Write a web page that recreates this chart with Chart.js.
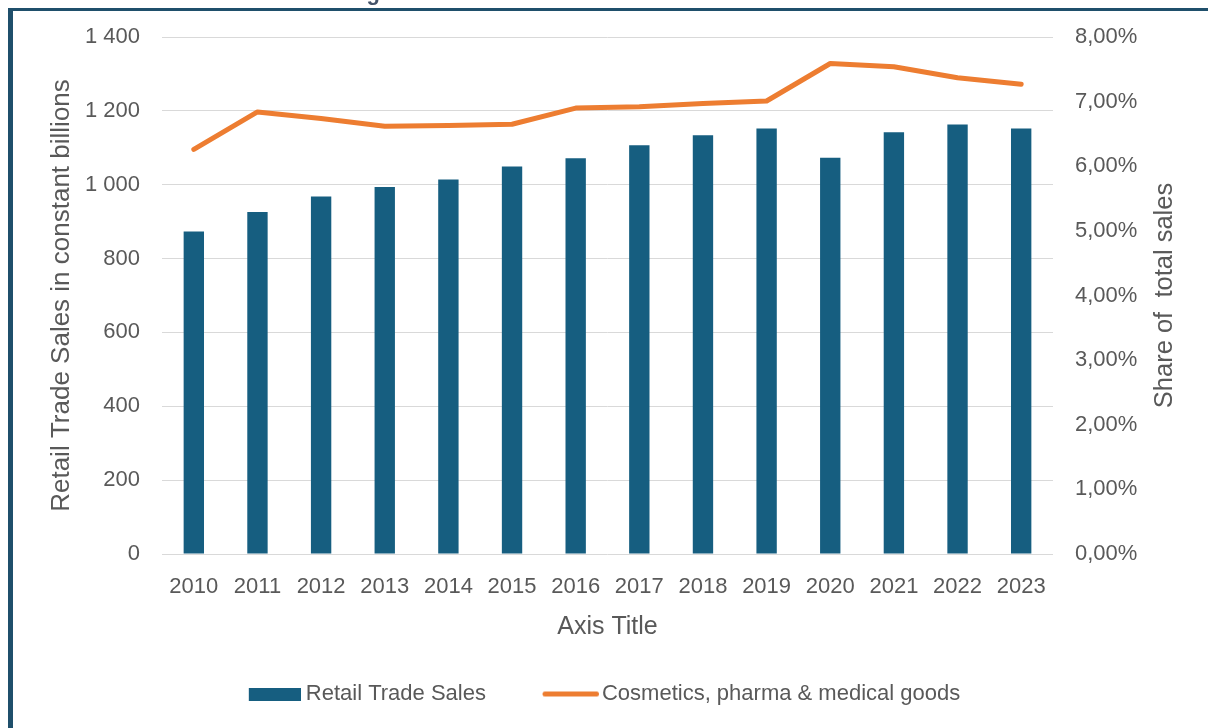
<!DOCTYPE html>
<html>
<head>
<meta charset="utf-8">
<title>Retail trade sales and cosmetics share</title>
<script src="https://cdn.jsdelivr.net/npm/chart.js@4.4.1/dist/chart.umd.min.js"></script>
<style>
  html, body { margin: 0; padding: 0; background: #ffffff; }
  #wrap { width: 1208px; height: 728px; position: relative; }
  canvas { display: block; }
</style>
</head>
<body>
<div id="wrap"><canvas id="chart" width="1208" height="728"></canvas></div>
<script>
// Years on the category axis
const years = ['2010', '2011', '2012', '2013', '2014', '2015', '2016',
               '2017', '2018', '2019', '2020', '2021', '2022', '2023'];

// Retail trade sales, constant billions (left axis)
const retailSales = [873, 926, 968, 994, 1014, 1049, 1072,
                     1107, 1134, 1152, 1073, 1142, 1163, 1152];

// Cosmetics, pharma & medical goods as % of total sales (right axis)
const cosmeticsShare = [6.26, 6.84, 6.74, 6.62, 6.63, 6.65, 6.90,
                        6.92, 6.97, 7.01, 7.59, 7.54, 7.37, 7.27];

// Axis ranges and tick steps
const salesTicks = { min: 0, max: 1400, step: 200 };
const shareTicks = { min: 0, max: 8, step: 1 };

const seriesNames = ['Retail Trade Sales', 'Cosmetics, pharma & medical goods'];
const titleText = 'Figure 3: Cosmetics share of total retail trade sales';
const rightAxisTitle = 'Share of  total sales';

const BAR_COLOR = '#165e80';
const LINE_COLOR = '#ed7d31';
const TEXT_COLOR = '#595959';
const GRID_COLOR = '#d9d9d9';
const FRAME_COLOR = '#1f4f6b';
const FONT = "'Liberation Sans', Arial, sans-serif";

Chart.defaults.font.family = FONT;
Chart.defaults.color = TEXT_COLOR;

// Legend swatches drawn into small canvases
function barSwatch() {
  const c = document.createElement('canvas');
  c.width = 59; c.height = 13;
  const g = c.getContext('2d');
  g.fillStyle = BAR_COLOR;
  g.fillRect(7, 0, 52, 13);
  return c;
}
function lineSwatch() {
  const c = document.createElement('canvas');
  c.width = 63; c.height = 13;
  const g = c.getContext('2d');
  g.strokeStyle = LINE_COLOR;
  g.lineWidth = 5;
  g.lineCap = 'round';
  g.beginPath();
  g.moveTo(9, 6.5);
  g.lineTo(60.5, 6.5);
  g.stroke();
  return c;
}

// Thousands with a space separator: 1 400
function fmtSales(v) {
  return String(v).replace(/\B(?=(\d{3})+(?!\d))/g, ' ');
}
// Percent with a comma decimal: 7,00%
function fmtShare(v) {
  return v.toFixed(2).replace('.', ',') + '%';
}

// White page, frame lines, heading cut by the top edge and the right-hand axis title
const decor = {
  id: 'decor',
  beforeDraw(chart) {
    const ctx = chart.ctx;
    ctx.save();
    ctx.fillStyle = '#ffffff';
    ctx.fillRect(0, 0, chart.width, chart.height);
    ctx.fillStyle = '#44546a';
    ctx.font = "bold 22px " + FONT;
    ctx.textAlign = 'center';
    ctx.textBaseline = 'alphabetic';
    ctx.fillText(titleText, 614, 0);
    ctx.fillStyle = FRAME_COLOR;
    ctx.fillRect(8, 8, chart.width - 8, 3);
    ctx.fillRect(8, 8, 5, chart.height - 8);
    ctx.restore();
  },
  afterDraw(chart) {
    const ctx = chart.ctx;
    const area = chart.chartArea;
    ctx.save();
    ctx.fillStyle = TEXT_COLOR;
    ctx.font = "25.5px " + FONT;
    ctx.textAlign = 'center';
    ctx.textBaseline = 'middle';
    ctx.translate(1165, (area.top + area.bottom) / 2);
    ctx.rotate(-Math.PI / 2);
    ctx.fillText(rightAxisTitle, 0, 0);
    ctx.restore();
  }
};

new Chart(document.getElementById('chart'), {
  data: {
    labels: years,
    datasets: [
      {
        type: 'bar',
        label: seriesNames[0],
        data: retailSales,
        yAxisID: 'y',
        backgroundColor: BAR_COLOR,
        borderWidth: 0,
        barPercentage: 0.32,
        categoryPercentage: 1.0,
        order: 1
      },
      {
        type: 'line',
        label: seriesNames[1],
        data: cosmeticsShare,
        yAxisID: 'y1',
        borderColor: LINE_COLOR,
        backgroundColor: LINE_COLOR,
        borderWidth: 5,
        borderCapStyle: 'round',
        borderJoinStyle: 'round',
        pointRadius: 0,
        tension: 0,
        order: 0
      }
    ]
  },
  options: {
    responsive: false,
    animation: false,
    devicePixelRatio: 1,
    layout: { padding: { left: 0, right: 0, top: 37, bottom: 13 } },
    plugins: {
      title: { display: false },
      tooltip: { enabled: false },
      legend: {
        display: true,
        position: 'bottom',
        labels: {
          usePointStyle: true,
          pointStyleWidth: 47,
          padding: 58,
          color: TEXT_COLOR,
          font: { size: 22 },
          generateLabels() {
            return [
              { text: seriesNames[0], pointStyle: barSwatch(), fontColor: TEXT_COLOR,
                fillStyle: BAR_COLOR, strokeStyle: BAR_COLOR, lineWidth: 0, datasetIndex: 0, hidden: false },
              { text: seriesNames[1], pointStyle: lineSwatch(), fontColor: TEXT_COLOR,
                fillStyle: LINE_COLOR, strokeStyle: LINE_COLOR, lineWidth: 0, datasetIndex: 1, hidden: false }
            ];
          }
        }
      }
    },
    scales: {
      x: {
        type: 'category',
        offset: true,
        grid: { display: false, drawTicks: false },
        border: { display: false },
        ticks: { padding: 20, color: TEXT_COLOR, font: { size: 22 }, maxRotation: 0, autoSkip: false },
        title: { display: true, text: 'Axis Title', color: TEXT_COLOR, font: { size: 25 },
                 padding: { top: 0, bottom: -17 } },
        afterFit(scale) { scale.height = 71; }
      },
      y: {
        position: 'left',
        min: salesTicks.min,
        max: salesTicks.max,
        grid: { color: GRID_COLOR, lineWidth: 1, drawTicks: false },
        border: { display: false },
        ticks: { stepSize: salesTicks.step, padding: 22, color: TEXT_COLOR, font: { size: 22 },
                 callback: (v) => fmtSales(v) },
        title: { display: true, text: 'Retail Trade Sales in constant billions', color: TEXT_COLOR,
                 font: { size: 26 }, padding: { top: 46, bottom: 0 } },
        afterFit(scale) { scale.width = 162; }
      },
      y1: {
        position: 'right',
        min: shareTicks.min,
        max: shareTicks.max,
        grid: { display: false, drawTicks: false },
        border: { display: false },
        ticks: { stepSize: shareTicks.step, padding: 22, color: TEXT_COLOR, font: { size: 22 },
                 callback: (v) => fmtShare(v) },
        afterFit(scale) { scale.width = 155; }
      }
    }
  },
  plugins: [decor]
});
</script>
</body>
</html>
